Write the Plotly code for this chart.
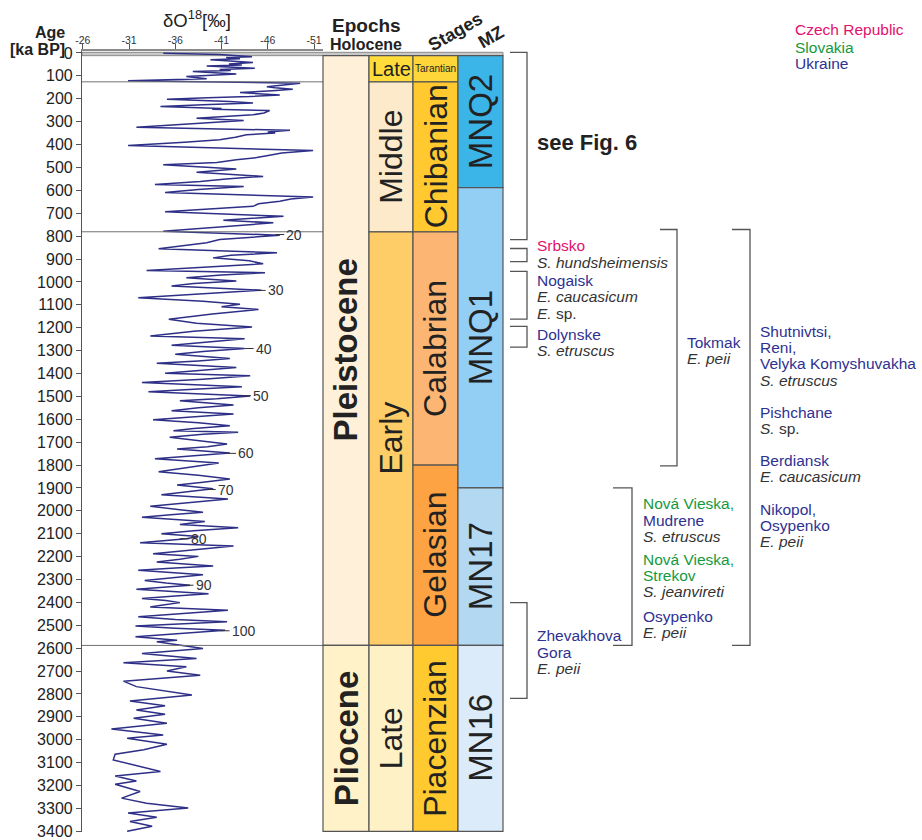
import plotly.graph_objects as go

# ---------------- data ----------------
ages = [1, 7, 16, 20, 25, 30, 42, 48, 52, 57, 67, 72, 76, 81, 92, 97, 103, 112, 121, 132,
        140, 147, 152, 158, 165, 173, 183, 190, 195, 202, 212, 219, 226, 234, 242, 246, 251, 262,
        270, 278, 285, 295, 310, 324, 338, 345, 350, 357, 368, 379, 390, 404, 426, 437, 449,
        457, 466, 478, 488, 497, 507, 521, 530, 539, 550, 561, 575, 583, 596, 609, 629, 638,
        648, 659, 670, 682, 694, 713, 722, 731, 742, 760, 779, 796, 815, 829, 842, 855, 873,
        884, 895, 908, 921, 936, 950, 960, 970, 982, 996, 1007, 1018, 1036, 1052, 1069, 1084,
        1098, 1108, 1120, 1140, 1163, 1181, 1197, 1215, 1236, 1248, 1262, 1277, 1291, 1304,
        1316, 1335, 1345, 1355, 1374, 1387, 1399, 1410, 1425, 1439, 1458, 1470, 1480, 1498,
        1510, 1519, 1538, 1550, 1563, 1577, 1590, 1602, 1615, 1628, 1640, 1650, 1657, 1665,
        1679, 1695, 1708, 1720, 1730, 1747, 1760, 1773, 1791, 1810, 1829, 1845, 1861, 1875,
        1887, 1904, 1918, 1930, 1948, 1964, 1980, 1995, 2006, 2017, 2028, 2047, 2060, 2074,
        2087, 2100, 2112, 2122, 2139, 2154, 2170, 2187, 2199, 2212, 2224, 2241, 2250, 2260,
        2279, 2292, 2304, 2315, 2325, 2343, 2352, 2362, 2372, 2383, 2392, 2401, 2412, 2420,
        2434, 2448, 2463, 2475, 2485, 2503, 2513, 2522, 2536, 2550, 2565, 2572,
        2601, 2623, 2645, 2664, 2681, 2700, 2718, 2744, 2768, 2805, 2831, 2851, 2870, 2889,
        2906, 2928, 2953, 2979, 2993, 3020, 3044, 3063, 3088, 3110, 3139, 3158, 3180, 3194,
        3226, 3255, 3277, 3298, 3320, 3339, 3357, 3378, 3400]
d18o = [-34.7, -40.8, -44.3, -41.5, -43.0, -39.8, -44.4, -41.8, -43.2, -39.4, -44.6, -40.8,
        -42.0, -37.9, -42.6, -40.5, -37.2, -39.4, -30.9, -49.5,
        -47.8, -45.9, -46.8, -48.7, -46.5, -43.0, -47.3, -44.0, -39.5, -35.1, -41.9, -44.4,
        -39.0, -34.4, -41.0, -40.0, -46.2, -45.6,
        -44.4, -41.5, -38.3, -43.4, -38.0, -31.8, -48.4, -46.0, -46.8, -43.7, -42.5, -40.8,
        -37.0, -30.9, -50.9, -47.5, -45.9,
        -44.8, -42.6, -40.5, -34.7, -39.0, -42.6, -38.3, -42.0, -45.5, -41.5, -38.7, -33.8,
        -43.4, -38.5, -34.9, -50.9, -48.5,
        -47.3, -45.0, -44.4, -40.0, -34.9, -47.7, -44.0, -41.2, -46.6, -40.5, -34.7, -47.3,
        -40.8, -39.4, -37.0, -34.2, -47.0,
        -42.0, -40.1, -44.0, -45.5, -38.5, -32.9, -45.7, -41.0, -37.2, -42.6, -38.0, -35.6,
        -45.3, -38.5, -32.0, -39.0,
        -43.0, -41.0, -45.0, -40.0, -35.3, -38.3, -44.3, -38.0, -33.3, -43.5, -39.5, -35.6,
        -43.5, -39.0,
        -36.0, -41.9, -38.5, -34.0, -42.6, -38.0, -34.9, -44.1, -39.0, -32.4, -43.2, -37.5,
        -33.1, -44.1,
        -40.5, -36.5, -42.3, -38.5, -35.6, -42.3, -38.0, -33.6, -38.5, -41.9, -38.0, -35.8,
        -42.8, -39.0,
        -35.4, -38.5, -41.6, -39.5, -36.2, -41.9, -37.5, -33.8, -40.7, -37.5, -34.2, -38.5,
        -41.9, -39.0,
        -36.2, -40.1, -37.0, -34.5, -41.7, -37.5, -33.3, -36.5, -39.0, -35.5, -32.4, -39.2,
        -36.5, -42.8,
        -38.0, -34.5, -38.5, -37.2, -32.2, -42.3, -38.0, -33.6, -38.5, -36.5, -34.0, -40.1,
        -36.0, -32.0,
        -39.0, -35.5, -32.7, -35.0, -37.6, -31.8, -35.5, -39.6, -36.0, -32.4, -35.0, -36.5,
        -34.5, -33.3,
        -41.7, -36.5, -32.0, -36.0, -41.6, -31.7, -36.0, -41.4, -36.5, -31.7, -36.2, -34.0,
        -39.0, -32.4, -38.3, -30.4, -37.2, -35.1, -38.7, -30.4, -31.8, -37.8, -31.1, -34.9,
        -31.8, -34.9,
        -31.5, -35.1, -29.1, -34.7, -30.8, -35.1, -32.6, -29.5, -29.3, -31.5, -34.4, -29.5,
        -31.8, -29.5,
        -32.2, -30.2, -32.9, -37.4, -30.9, -34.0, -31.1, -33.5, -30.8]

x_ticks = [-26, -31, -36, -41, -46, -51]

mis_labels = ["20", "30", "40", "50", "60", "70", "80", "90", "100"]
mis_age = [793, 1037, 1291, 1497, 1749, 1907, 2122, 2325, 2524]
mis_val = [-46.8, -44.8, -43.5, -43.2, -41.6, -39.4, -36.5, -37.0, -40.9]

boundary_ages = [126, 781, 2588]
holocene = [-3, 11.7]

epoch_names = ["Pleistocene", "Pliocene"]
epoch_start = [11.7, 2588]
epoch_end = [2588, 3400]

sub_names = ["Late", "Middle", "Early", "Late"]
sub_start = [11.7, 126, 781, 2588]
sub_end = [126, 781, 2588, 3400]

stage_names = ["Tarantian", "Chibanian", "Calabrian", "Gelasian", "Piacenzian"]
stage_start = [11.7, 126, 781, 1800, 2588]
stage_end = [126, 781, 1800, 2588, 3400]

mz_names = ["MNQ2", "MNQ1", "MN17", "MN16"]
mz_start = [11.7, 588, 1900, 2588]
mz_end = [588, 1900, 2588, 3400]

bracket_top = [-3, 854, 954, 1194, 771, 771, 1900, 2401]
bracket_bottom = [815, 911, 1163, 1285, 1804, 2588, 2588, 2819]

site_text = ["Srbsko", "<i>S. hundsheimensis</i>",
             "Nogaisk", "<i>E. caucasicum</i>", "<i>E.</i> sp.",
             "Dolynske", "<i>S. etruscus</i>",
             "Tokmak", "<i>E. peii</i>",
             "Shutnivtsi,", "Reni,", "Velyka Komyshuvakha", "<i>S. etruscus</i>",
             "Pishchane", "<i>S.</i> sp.",
             "Berdiansk", "<i>E. caucasicum</i>",
             "Nikopol,", "Osypenko", "<i>E. peii</i>",
             "Nová Vieska,", "Mudrene", "<i>S. etruscus</i>",
             "Nová Vieska,", "Strekov", "<i>S. jeanvireti</i>",
             "Osypenko", "<i>E. peii</i>",
             "Zhevakhova", "Gora", "<i>E. peii</i>"]
site_kind = ["cz", "sp", "ua", "sp", "sp", "ua", "sp", "ua", "sp",
             "ua", "ua", "ua", "sp", "ua", "sp", "ua", "sp", "ua", "ua", "sp",
             "sk", "ua", "sp", "sk", "sk", "sp", "ua", "sp", "ua", "ua", "sp"]

legend_text = ["Czech Republic", "Slovakia", "Ukraine"]
legend_kind = ["cz", "sk", "ua"]

# ---------------- layout / style ----------------
W, H = 922, 840
ML, MR, MT, MB = 82, 0, 51, 6
PW = W - ML - MR
PH = H - MT - MB
FONT = "Liberation Sans, Arial, sans-serif"
KIND_COLOR = {"cz": "#E3106C", "sk": "#149A3C", "ua": "#2E3192", "sp": "#333333"}
LINE = "#555555"
TXT = "#222222"


def px(xp):
    return (xp - ML) / PW


def py(yp):
    return (H - MB - yp) / PH


col_edges = [323, 369, 413, 458, 503]
epoch_colors = ["#FFF0D9", "#FFF2C8"]
sub_colors = ["#FFDC3A", "#FDEACB", "#FECD68", "#FFF1C6"]
stage_colors = ["#FFD63A", "#FFC92F", "#FDB573", "#FDA343", "#FFCA30"]
mz_colors = ["#3BB4E7", "#93CEF5", "#B3D9F2", "#DCEBF9"]

bracket_x = [(510, 527), (510, 527), (510, 527), (510, 527),
             (660, 677), (732, 750), (613, 632), (510, 527)]

site_pos = [(535, 246), (535, 263),
            (535, 281), (535, 297), (535, 314),
            (535, 335), (535, 351),
            (685, 343), (685, 359),
            (758, 332), (758, 348), (758, 364), (758, 381),
            (758, 413), (758, 429),
            (758, 462), (758, 478),
            (758, 511), (758, 527), (758, 543),
            (641, 505), (641, 522), (641, 538),
            (641, 561), (641, 577), (641, 593),
            (641, 618), (641, 634),
            (535, 637), (535, 654), (535, 670)]
legend_pos = [(793, 29), (793, 47), (793, 64)]

fig = go.Figure()
fig.add_trace(go.Scatter(x=d18o, y=ages, mode="lines",
                         line=dict(color="#2E2F86", width=1.5),
                         hoverinfo="skip", showlegend=False))

shapes = []
annotations = []

# Holocene band
shapes.append(dict(type="rect", xref="paper", yref="y", x0=0, x1=px(col_edges[-1]),
                   y0=holocene[0], y1=holocene[1], fillcolor="#C8C8C8",
                   line=dict(color="#8A8A8A", width=1), layer="below"))

# boundary lines in curve panel
for b in boundary_ages:
    shapes.append(dict(type="line", xref="paper", yref="y", x0=0, x1=px(col_edges[0]),
                       y0=b, y1=b, line=dict(color="#707070", width=1)))


def add_column(ci, names, starts, ends, colors, size, angles, bold=False):
    x0, x1 = px(col_edges[ci]), px(col_edges[ci + 1])
    xc = (x0 + x1) / 2
    for n, s, e, c, fs, ang in zip(names, starts, ends, colors, size, angles):
        shapes.append(dict(type="rect", xref="paper", yref="y", x0=x0, x1=x1, y0=s, y1=e,
                           fillcolor=c, line=dict(color=LINE, width=1.2)))
        annotations.append(dict(x=xc, y=(s + e) / 2, xref="paper", yref="y", text=n,
                                showarrow=False, textangle=ang, xanchor="center",
                                yanchor="middle",
                                font=dict(family=FONT, size=fs, color=TXT,
                                          weight="bold" if bold else "normal")))


add_column(0, epoch_names, epoch_start, epoch_end, epoch_colors, [33, 33], [-90, -90], bold=True)
add_column(1, sub_names, sub_start, sub_end, sub_colors, [20, 32, 32, 32], [0, -90, -90, -90])
add_column(2, stage_names, stage_start, stage_end, stage_colors, [10, 32, 32, 32, 32],
           [0, -90, -90, -90, -90])
add_column(3, mz_names, mz_start, mz_end, mz_colors, [33, 33, 33, 33], [-90, -90, -90, -90])

# brackets
for (bx0, bx1), t, b in zip(bracket_x, bracket_top, bracket_bottom):
    p0, p1 = px(bx0), px(bx1)
    shapes.append(dict(type="path", xref="paper", yref="y",
                       path=f"M {p0},{t} L {p1},{t} L {p1},{b} L {p0},{b}",
                       line=dict(color=LINE, width=1.3)))

# MIS labels
for lab, a, v in zip(mis_labels, mis_age, mis_val):
    annotations.append(dict(x=v, y=a, xref="x", yref="y", text=lab, showarrow=True,
                            arrowhead=0, arrowwidth=1, arrowcolor="#333333", ax=9, ay=0,
                            xanchor="left", yanchor="middle", standoff=0,
                            font=dict(family=FONT, size=14, color="#333333")))

# site texts
for t, k, (x, y) in zip(site_text, site_kind, site_pos):
    annotations.append(dict(x=px(x), y=py(y), xref="paper", yref="paper", text=t,
                            showarrow=False, xanchor="left", yanchor="middle",
                            font=dict(family=FONT, size=15.5, color=KIND_COLOR[k])))
for t, k, (x, y) in zip(legend_text, legend_kind, legend_pos):
    annotations.append(dict(x=px(x), y=py(y), xref="paper", yref="paper", text=t,
                            showarrow=False, xanchor="left", yanchor="middle",
                            font=dict(family=FONT, size=15.5, color=KIND_COLOR[k])))

# headers
header = [("δO<sup>18</sup>[‰]", 197, 19, 18.5, 0, "normal"),
          ("Age", 50, 32, 16, 0, "bold"),
          ("[ka BP]", 37, 49, 16, 0, "bold"),
          ("Epochs", 366, 25, 19, 0, "bold"),
          ("Holocene", 366, 44, 16, 0, "bold"),
          ("Stages", 455, 32, 18, -30, "bold"),
          ("MZ", 491, 37, 18, -30, "bold")]
for t, x, y, fs, ang, wt in header:
    annotations.append(dict(x=px(x), y=py(y), xref="paper", yref="paper", text=t,
                            showarrow=False, textangle=ang, xanchor="center",
                            yanchor="middle",
                            font=dict(family=FONT, size=fs, color=TXT, weight=wt)))
annotations.append(dict(x=px(535), y=py(143), xref="paper", yref="paper",
                        text="see Fig. 6", showarrow=False, xanchor="left",
                        yanchor="middle",
                        font=dict(family=FONT, size=22, color=TXT, weight="bold")))

fig.update_layout(
    width=W, height=H,
    margin=dict(l=ML, r=MR, t=MT, b=MB, pad=0),
    paper_bgcolor="white", plot_bgcolor="white",
    font=dict(family=FONT, color=TXT),
    showlegend=False,
    shapes=shapes, annotations=annotations,
    xaxis=dict(domain=[0, px(col_edges[0])], side="top", range=[-25.92, -51.97],
               tickvals=x_ticks, ticktext=[str(v) for v in x_ticks],
               ticks="outside", ticklen=5, tickcolor="#555", showline=True,
               linecolor="#8A8A8A", linewidth=2, showgrid=False, zeroline=False,
               ticklabelstandoff=-4,
               tickfont=dict(family=FONT, size=10.5, color="#333")),
    yaxis=dict(range=[3403, -8.7], tickmode="linear", tick0=0, dtick=100,
               ticks="outside", ticklen=5, tickcolor="#555", showline=True,
               linecolor="#555", linewidth=1.2, showgrid=False, zeroline=False,
               ticklabeloverflow="allow",
               tickfont=dict(family=FONT, size=16, color=TXT)),
)

fig.write_html("out.html",
               config={"displayModeBar": False},
               post_script="document.body.style.margin='0px';"
                           "document.body.style.padding='0px';"
                           "document.body.style.overflow='hidden';")
